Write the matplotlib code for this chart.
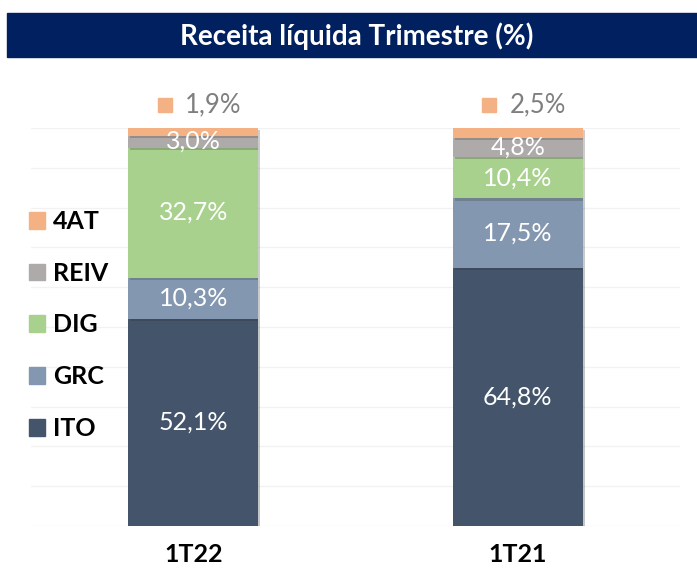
import matplotlib
matplotlib.use('Agg')
import numpy as np
import matplotlib.pyplot as plt
import matplotlib.patheffects as pe
from matplotlib.patches import Rectangle, Patch
from matplotlib.transforms import offset_copy

plt.rcParams['font.family'] = ['Lato', 'DejaVu Sans']

# Data (stack order from bottom to top)
quarters = ['1T22', '1T21']
segments = ['ITO', 'GRC', 'DIG', 'REIV', '4AT']
ito = [52.1, 64.8]
grc = [10.3, 17.5]
dig = [32.7, 10.4]
reiv = [3.0, 4.8]
fourat = [1.9, 2.5]
colors = ['#44546A', '#8497B0', '#A9D18E', '#AEAAAA', '#F4B183']


def fmt(v):
    return f"{v:.1f}%".replace('.', ',')


def main():
    fig = plt.figure(figsize=(6.97, 5.81), dpi=100)

    # Title band
    fig.patches.append(Rectangle((7 / 697, 1 - 57 / 581), 1 - 7 / 697, 44 / 581,
                                 transform=fig.transFigure, color='#002060',
                                 zorder=0))
    fig.text(0.512, 1 - 36 / 581, 'Receita líquida Trimestre (%)',
             color='white', fontsize=20, fontweight='bold',
             ha='center', va='center')

    ax = fig.add_axes([31 / 697, 1 - 526 / 581, 649 / 697, 398 / 581])
    x = np.arange(len(quarters))
    series = [ito, grc, dig, reiv, fourat]
    bottom = np.zeros(len(quarters))
    shadow = [pe.SimplePatchShadow(offset=(1.5, -1.5), alpha=0.25), pe.Normal()]
    for name, vals, col in zip(segments, series, colors):
        vals = np.array(vals)
        bars = ax.bar(x, vals, width=0.40, bottom=bottom, color=col,
                      label=name, zorder=3)
        for b in bars:
            b.set_path_effects(shadow)
        if name != '4AT':
            for xi, v, b0 in zip(x, vals, bottom):
                ax.text(xi, b0 + v / 2, fmt(v), color='white', fontsize=18,
                        ha='center', va='center', zorder=4)
        bottom = bottom + vals

    # 4AT labels above bars (marker + gray value)
    for xi, v, top in zip(x, fourat, bottom):
        tr_sq = offset_copy(ax.transData, fig=fig, x=-28.5, y=23, units='dots')
        ax.plot([xi], [top], marker='s', markersize=10, color=colors[4],
                transform=tr_sq, clip_on=False, linestyle='none')
        tr_tx = offset_copy(ax.transData, fig=fig, x=-8, y=23, units='dots')
        ax.text(xi, top, fmt(v), color='#7F7F7F', fontsize=18.5,
                ha='left', va='center', transform=tr_tx)

    ax.set_xlim(-0.5, 1.5)
    ax.set_ylim(0, 100)
    ax.set_yticks(np.arange(0, 101, 10))
    ax.yaxis.grid(True, color='#F2F2F2', linewidth=1, zorder=0)
    ax.set_axisbelow(True)
    ax.tick_params(axis='y', left=False, labelleft=False)
    ax.tick_params(axis='x', bottom=False, pad=9)
    ax.set_xticks(x)
    ax.set_xticklabels(quarters, fontsize=18, fontweight='bold', color='black')
    for s in ax.spines.values():
        s.set_visible(False)

    handles = [Patch(color=c, label=n) for n, c in zip(segments, colors)][::-1]
    fig.legend(handles=handles, loc='center left',
               bbox_to_anchor=(29 / 697, 1 - 325 / 581), frameon=False,
               prop={'weight': 'bold', 'size': 18}, handlelength=0.65,
               handleheight=0.65, handletextpad=0.3, labelspacing=1.15,
               borderpad=0, borderaxespad=0)

    fig.savefig('out.png', dpi=100)


if __name__ == '__main__':
    main()
